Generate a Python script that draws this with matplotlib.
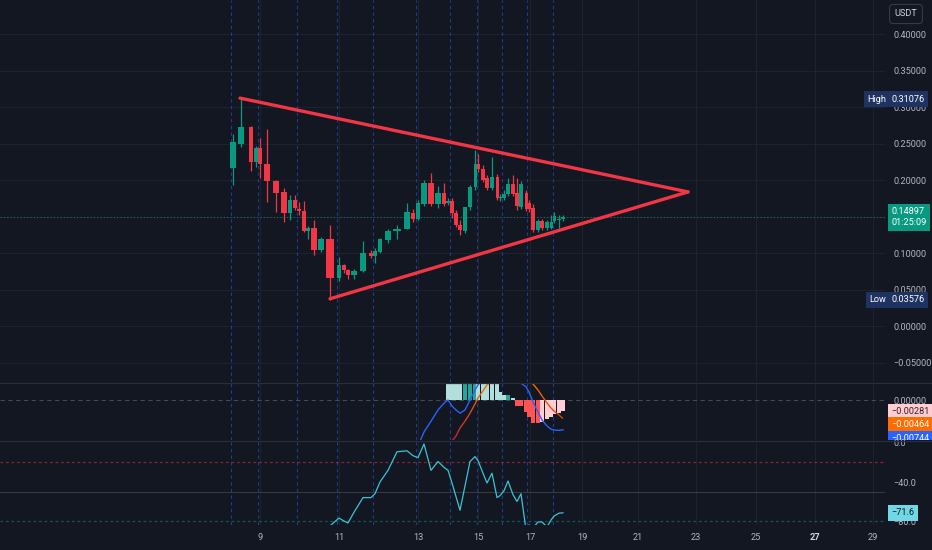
import numpy as np
import matplotlib.pyplot as plt
from matplotlib.collections import LineCollection
from matplotlib.colors import LinearSegmentedColormap, Normalize
from matplotlib.transforms import Bbox, TransformedBbox, blended_transform_factory

plt.rcParams['font.family'] = ['Roboto', 'DejaVu Sans']

# Candle data. x is the bar slot on the chart (uneven: bars per day vary).
bar_x = [23.3, 24.1, 25.1, 25.6, 26.0, 26.7, 27.6, 28.4, 29.0, 29.5,
         29.9, 30.4, 30.8, 31.4, 32.1, 33.0, 33.9, 34.4, 34.8, 35.4,
         36.3, 37.1, 37.5, 38.0, 38.8, 39.7, 40.7, 41.3, 41.8, 42.4,
         43.1, 43.8, 44.4, 44.8, 45.2, 45.6, 46.0, 46.5, 47.0, 47.5,
         47.8, 48.3, 48.7, 49.2, 49.7, 50.0, 50.4, 50.8, 51.3, 51.7,
         52.1, 52.6, 52.9, 53.3, 53.8, 54.2, 54.7, 55.1, 55.4, 55.9, 56.3]
opens = [.2169, .2500, .2721, .2251, .2445, .2224, .1989, .1837, .1547, .1727,
         .1602, .1575, .1298, .1340, .1036, .1188, .0663, .0829, .0773, .0704,
         .0760, .0994, .0953, .1008, .1174, .1298, .1326, .1547, .1464, .1671,
         .1961, .1671, .1823, .1685, .1713, .1547, .1381, .1298, .1630, .1906,
         .2224, .2155, .2030, .1892, .2044, .1754, .1754, .1809, .1948, .1823,
         .1630, .1823, .1685, .1616, .1312, .1436, .1340, .1340, .1436, .1450, .1464]
closes = [.2514, .2721, .2251, .2445, .2224, .1989, .1823, .1547, .1727, .1616,
          .1575, .1298, .1340, .1036, .1188, .0663, .0829, .0773, .0704, .0760,
          .0994, .0953, .1022, .1188, .1298, .1326, .1561, .1464, .1685, .1961,
          .1671, .1823, .1671, .1713, .1547, .1381, .1312, .1630, .1906, .2224,
          .2155, .2003, .1892, .2044, .1754, .1768, .1809, .1948, .1809, .1644,
          .1948, .1602, .1602, .1312, .1436, .1340, .1423, .1423, .1506, .1464, .14897]
highs = [.2624, .31076, .2735, .2472, .2569, .2693, .2003, .1892, .1796, .1796,
         .1699, .1713, .1367, .1450, .1215, .1381, .0939, .0856, .0787, .0787,
         .1160, .1036, .1064, .1202, .1326, .1381, .1685, .1602, .1727, .2003,
         .2099, .1920, .1961, .1754, .1754, .1588, .1450, .1630, .1934, .2417,
         .2362, .2210, .2072, .2320, .2086, .1809, .1865, .2030, .2072, .2030,
         .1989, .1865, .1727, .1671, .1464, .1464, .1450, .1519, .1561, .1519, .1519]
lows = [.1934, .2459, .2127, .2182, .2030, .1699, .1561, .1423, .1450, .1588,
        .1519, .1285, .1188, .0967, .1008, .03576, .0622, .0732, .0649, .0649,
        .0746, .0925, .0870, .0994, .1133, .1188, .1326, .1423, .1450, .1644,
        .1644, .1616, .1644, .1657, .1478, .1354, .1243, .1271, .1588, .1865,
        .2113, .1975, .1865, .1865, .1727, .1713, .1727, .1782, .1782, .1588,
        .1602, .1575, .1561, .1285, .1285, .1312, .1312, .1326, .1409, .1340, .1436]

# Triangle drawing (x slot, price)
tri_upper_x = [24.0, 68.8]
tri_upper_y = [0.3122, 0.1837]
tri_lower_x = [33.0, 68.8]
tri_lower_y = [0.0373, 0.1837]

# Day separators and date labels
day_start_x = [23.1, 25.8, 29.7, 33.7, 37.3, 41.6, 45.0, 47.7, 50.2, 52.7, 55.3]
tick_x = [26.0, 33.9, 41.8, 47.8, 53.0, 58.2, 63.8, 69.6, 75.6, 81.5, 87.3]
tick_labels = ['9', '11', '13', '15', '17', '19', '21', '23', '25', '27', '29']

# MACD (all series end on the last candle)
macd_line = [-0.0115, -0.0080, -0.0053, -0.0025, -0.0008, 0.0, -0.0015, -0.0025,
             -0.0033, -0.0025, 0.0, 0.0025, 0.00375, 0.0055, 0.0060, 0.0065,
             0.0068, 0.0068, 0.0065, 0.0062, 0.0058, 0.0050, 0.0042, 0.0033,
             0.0020, -0.0005, -0.0030, -0.0050, -0.0065, -0.0073, -0.0075,
             -0.0076, -0.00744]
macd_signal = [-0.0103, -0.0090, -0.0070, -0.0053, -0.0033, -0.0010, 0.0005,
               0.0023, 0.00375, 0.0048, 0.0055, 0.0060, 0.0063, 0.0064, 0.0063,
               0.0060, 0.0057, 0.0052, 0.0047, 0.0040, 0.0025, 0.0010, -0.00075,
               -0.0020, -0.00275, -0.00375, -0.00464]
macd_hist = [0.0068, 0.0064, 0.0060, 0.0057, 0.0060, 0.0066, 0.0070, 0.0066,
             0.0060, 0.0054, 0.0050, 0.0042, 0.0021, 0.0012, 0.0013, 0.0005,
             -0.0015, -0.0016, -0.0030, -0.0042, -0.0057, -0.0058, -0.0055,
             -0.0048, -0.0042, -0.0035, -0.0032, -0.00281]

# Williams %R
willr = [-90, -85, -77, -80, -82, -71, -56, -56, -52, -40, -28, -9, -8, -13, -15,
         -1, -28, -19, -25, -28, -41, -55, -69, -44, -19, -14, -18, -31, -41,
         -31, -56, -54, -49, -39, -53, -60, -52, -89, -84, -87, -81, -81, -86,
         -79, -75, -72, -71.6]

BG = '#131722'
GRID = '#1E222D'
TXT = '#B2B5BE'
UP = '#089981'
DOWN = '#F23645'
FS = 6.6

W, H = 932, 550
fig = plt.figure(figsize=(W / 100, H / 100), dpi=100, facecolor=BG)
right = 885 / W
ax_p = fig.add_axes([0, 1 - 382 / H, right, 382 / H])
ax_m = fig.add_axes([0, 1 - 440 / H, right, 57 / H])
ax_w = fig.add_axes([0, 1 - 525 / H, right, 84 / H])

for ax in (ax_p, ax_m, ax_w):
    ax.set_facecolor(BG)
    for s in ax.spines.values():
        s.set_visible(False)
    ax.set_xlim(0, 88.5)
    ax.set_xticks(tick_x)
    ax.yaxis.tick_right()
    ax.tick_params(length=0, colors=TXT, labelsize=FS)
    ax.tick_params(axis='y', pad=6)
    ax.grid(axis='x', color=GRID, lw=0.8)
    ax.set_axisbelow(True)
    for d in day_start_x:
        ax.axvline(d, color='#2962FF', alpha=0.5, lw=0.8, ls=(0, (3, 3)), zorder=1)

ax_p.set_xticklabels([])
ax_m.set_xticklabels([])
ax_w.set_xticklabels(tick_labels)
ax_w.tick_params(axis='x', pad=6)
for lbl in ax_w.get_xticklabels():
    if lbl.get_text() == '27':
        lbl.set_fontweight('bold')
        lbl.set_color('#D1D4DC')


def fmt(v, nd):
    return f'{v:.{nd}f}'.replace('-', '\u2212')


# ---- price pane
ax_p.set_ylim(-0.0767, 0.4466)
pticks = np.round(np.arange(-0.05, 0.401, 0.05), 2)
ax_p.set_yticks(pticks)
# the 0.15 label sits under the last-price badge, so leave it blank
ax_p.set_yticklabels(['' if abs(v - 0.15) < 1e-9 else fmt(v, 5) for v in pticks])
ax_p.grid(axis='y', color=GRID, lw=0.8)

bx = np.array(bar_x)
gaps = np.diff(bx)
near = np.minimum(np.r_[gaps[0], gaps], np.r_[gaps, gaps[-1]])
widths = np.clip(near * 0.85, 0.3, 1.0)
o, c, h, l = map(np.array, (opens, closes, highs, lows))
cols = np.where(c >= o, UP, DOWN)
ax_p.vlines(bx, l, h, colors=cols, lw=0.9, zorder=3)
ax_p.bar(bx, c - o, bottom=o, width=widths, color=cols, zorder=4, lw=0)

ax_p.axhline(closes[-1], color=UP, lw=0.8, ls=(0, (1, 2)), alpha=0.7, zorder=2)
ax_p.plot(tri_upper_x, tri_upper_y, color=DOWN, lw=2.4, solid_capstyle='round', zorder=5)
ax_p.plot(tri_lower_x, tri_lower_y, color=DOWN, lw=2.4, solid_capstyle='round', zorder=5)


def badge(ax, y, text, fc, tc='white', x=1.007, ha='left', pad=0.35, clip=None):
    tr = blended_transform_factory(ax.transAxes, ax.transData)
    t = ax.text(x, y, text, transform=tr, ha=ha, va='center', color=tc, fontsize=FS,
                bbox=dict(boxstyle=f'square,pad={pad}', fc=fc, ec='none'),
                zorder=20, clip_on=clip is not None)
    if clip is not None:
        t.set_clip_box(clip)
    return t


NAVY = '#1E3361'
badge(ax_p, highs[1], 'High', NAVY, x=1.0015, ha='right')
badge(ax_p, highs[1], fmt(highs[1], 5), NAVY)
badge(ax_p, lows[15], 'Low', NAVY, x=1.0015, ha='right')
badge(ax_p, lows[15], fmt(lows[15], 5), NAVY)
t = badge(ax_p, closes[-1], fmt(closes[-1], 5) + '\n01:25:09', UP)
t.set_linespacing(1.35)

fig.text(906 / W, 1 - 14 / H, 'USDT', color='#D1D4DC', fontsize=FS, ha='center', va='center',
         bbox=dict(boxstyle='round,pad=0.55,rounding_size=0.4', fc=BG, ec='#363A45', lw=0.8))

# ---- MACD pane
ax_m.set_ylim(-0.0100, 0.00425)
ax_m.set_yticks([0.0])
ax_m.set_yticklabels([fmt(0.0, 5)])
ax_m.axhline(0, color='#787B86', alpha=0.5, lw=0.8, ls=(0, (4, 3)), zorder=1)

hx = bx[-len(macd_hist):]
hcols = []
prev = None
for v in macd_hist:
    rising = prev is not None and v > prev
    if v >= 0:
        hcols.append('#26A69A' if rising else '#B2DFDB')
    else:
        hcols.append('#FFCDD2' if rising else '#FF5252')
    prev = v
ax_m.bar(hx, macd_hist, width=widths[-len(macd_hist):] * 1.1, color=hcols, lw=0, zorder=2)
ax_m.plot(bx[-len(macd_line):], macd_line, color='#2962FF', lw=1.0, zorder=3)

sx = bx[-len(macd_signal):]
sv = np.array(macd_signal)
segs = [[(sx[i], sv[i]), (sx[i + 1], sv[i + 1])] for i in range(len(sv) - 1)]
cmap = LinearSegmentedColormap.from_list('sig', ['#C62828', '#FF6D00'])
seg_vals = (sv[:-1] + sv[1:]) / 2
lc = LineCollection(segs, colors=cmap(Normalize(-0.009, 0.004)(seg_vals)), lw=1.0, zorder=3)
ax_m.add_collection(lc)

macd_clip = TransformedBbox(Bbox([[0, 1 - 440 / H], [1, 1 - 383 / H]]), fig.transFigure)
labels = [(macd_hist[-1], '#FFCDD2', '#3A1F24'), (macd_signal[-1], '#FF6D00', 'white'),
          (macd_line[-1], '#2962FF', 'white')]
gap = 0.0034
ypos = None
for v, fc, tc in sorted(labels, key=lambda r: -r[0]):
    ypos = v if ypos is None else min(v, ypos - gap)
    badge(ax_m, ypos, fmt(v, 5), fc, tc, clip=macd_clip)

# ---- Williams %R pane
ax_w.set_ylim(-84.1, 2.05)
ax_w.set_yticks([0, -40, -80])
ax_w.set_yticklabels([fmt(v, 1) for v in (0, -40, -80)])
ax_w.axhline(-20, color=DOWN, alpha=0.5, lw=0.9, ls=(0, (2.2, 2.2)), zorder=1)
ax_w.axhline(-50, color='#787B86', alpha=0.35, lw=0.8, zorder=1)
ax_w.axhline(-80, color=UP, alpha=0.5, lw=0.9, ls=(0, (2.2, 2.2)), zorder=1)
ax_w.plot(bx[-len(willr):], willr, color='#3BC3D4', lw=0.9, zorder=3)
badge(ax_w, willr[-1], fmt(willr[-1], 1), '#6FD8E4', '#131722')

# pane separators
for yp in (382.5, 440.5):
    fig.add_artist(plt.Line2D([0, 1], [1 - yp / H] * 2, color='#2A2E39', lw=0.9))

fig.savefig('out.png', dpi=100, facecolor=BG)
